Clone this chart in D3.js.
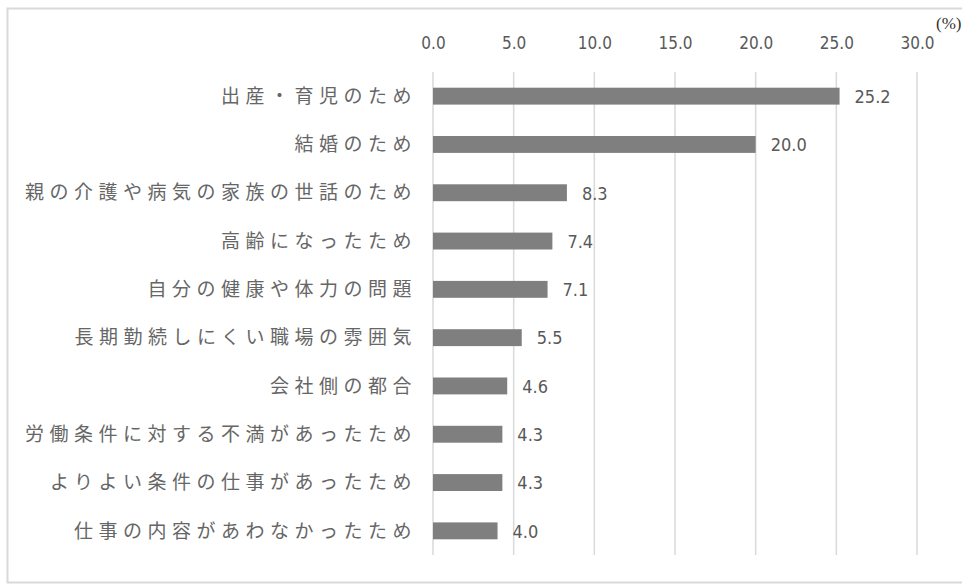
<!DOCTYPE html>
<html>
<head>
<meta charset="utf-8">
<script src="https://cdn.jsdelivr.net/npm/d3@7"></script>
<style>
  html, body { margin: 0; padding: 0; background: #fff; }
  svg { display: block; }
</style>
</head>
<body>
<svg id="chart" width="962" height="586"></svg>
<script>
const categories = [
  "出産・育児のため",
  "結婚のため",
  "親の介護や病気の家族の世話のため",
  "高齢になったため",
  "自分の健康や体力の問題",
  "長期勤続しにくい職場の雰囲気",
  "会社側の都合",
  "労働条件に対する不満があったため",
  "よりよい条件の仕事があったため",
  "仕事の内容があわなかったため"
];
const values = [25.2, 20.0, 8.3, 7.4, 7.1, 5.5, 4.6, 4.3, 4.3, 4.0];
const tickValues = [0, 5, 10, 15, 20, 25, 30];
const unitLabel = "(%)";

const svg = d3.select("#chart");
const numFont = "'Liberation Sans Narrow', 'DejaVu Sans Condensed', 'Liberation Sans', sans-serif";
const jpFont = "'Noto Sans CJK JP', sans-serif";
const textColor = "#595959";

// frame
svg.append("rect")
  .attr("x", 7.5).attr("y", 8.5)
  .attr("width", 980).attr("height", 574)
  .attr("fill", "#fff")
  .attr("stroke", "#d9d9d9")
  .attr("stroke-width", 2);

const plotTop = 72, plotBottom = 555;
const x = d3.scaleLinear().domain([0, 30]).range([433, 917]);
const y = d3.scaleBand().domain(categories).range([plotTop, plotBottom])
  .paddingInner(0.65).paddingOuter(0.325);

// gridlines
svg.append("g").selectAll("line").data(tickValues).join("line")
  .attr("x1", d => x(d)).attr("x2", d => x(d))
  .attr("y1", plotTop).attr("y2", plotBottom)
  .attr("stroke", "#d9d9d9").attr("stroke-width", 1.5);

// top axis labels
const axis = d3.axisTop(x).tickValues(tickValues).tickFormat(d3.format(".1f")).tickSize(0).tickPadding(0);
const ax = svg.append("g").attr("transform", "translate(0,49)").call(axis);
ax.select(".domain").remove();
ax.selectAll("text")
  .attr("font-family", numFont)
  .attr("font-size", 17)
  .attr("fill", textColor);

// unit label
svg.append("text")
  .attr("x", 936).attr("y", 29)
  .attr("font-family", "'Liberation Serif', serif")
  .attr("font-size", 17)
  .attr("fill", "#333")
  .text(unitLabel);

const data = categories.map((c, i) => ({ c, v: values[i] }));

// bars
svg.append("g").selectAll("rect").data(data).join("rect")
  .attr("x", x(0))
  .attr("y", d => y(d.c))
  .attr("width", d => x(d.v) - x(0))
  .attr("height", y.bandwidth())
  .attr("fill", "#7f7f7f");

// value labels
svg.append("g").selectAll("text").data(data).join("text")
  .attr("x", d => x(d.v) + 15)
  .attr("y", d => y(d.c) + y.bandwidth() / 2)
  .attr("dy", "0.38em")
  .attr("font-family", numFont)
  .attr("font-size", 18)
  .attr("fill", textColor)
  .text(d => d3.format(".1f")(d.v));

// category labels
svg.append("g").selectAll("text").data(data).join("text")
  .attr("x", 417)
  .attr("y", d => y(d.c) + y.bandwidth() / 2)
  .attr("dy", "0.35em")
  .attr("text-anchor", "end")
  .attr("font-family", jpFont)
  .attr("font-size", 19)
  .attr("letter-spacing", "5.5px")
  .attr("fill", "#666")
  .text(d => d.c);
</script>
</body>
</html>
